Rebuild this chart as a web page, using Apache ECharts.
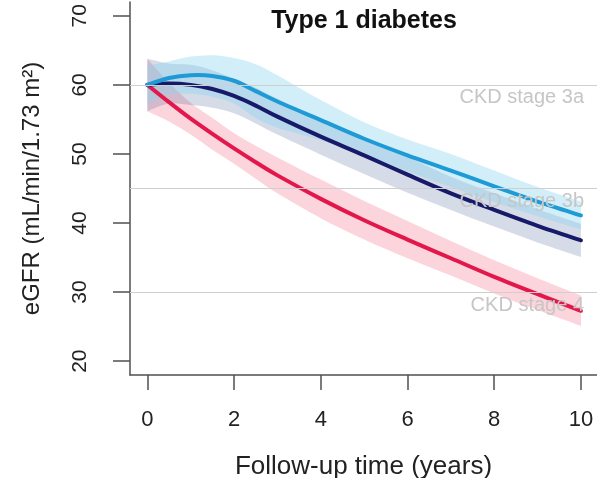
<!DOCTYPE html>
<html>
<head>
<meta charset="utf-8">
<script src="https://cdn.jsdelivr.net/npm/echarts@6/dist/echarts.min.js"></script>
<style>
  html, body { margin: 0; padding: 0; background: #fff; }
  #chart { width: 597px; height: 478px; }
</style>
</head>
<body>
<div id="chart"></div>
<script>
// Follow-up time (years) at which each trajectory is given
const years = [0, 0.5, 1, 1.5, 2, 2.5, 3, 4, 5, 6, 7, 8, 9, 10];

// Light blue group: mean eGFR and 95% band
const cyanMean  = [60, 61.0, 61.4, 61.3, 60.6, 59.1, 57.6, 54.9, 52.2, 49.8, 47.6, 45.3, 43.1, 41.1];
const cyanUpper = [62.8, 63.4, 64.1, 64.3, 63.9, 63.0, 61.4, 57.8, 54.6, 52.1, 50.0, 47.6, 45.2, 43.1];
const cyanLower = [57.2, 58.6, 58.7, 58.3, 57.3, 55.2, 53.8, 52.0, 49.8, 47.5, 45.2, 43.0, 41.0, 39.1];

// Dark blue group
const navyMean  = [60, 60.2, 60.0, 59.4, 58.4, 57.0, 55.4, 52.5, 49.8, 47.0, 44.3, 41.9, 39.6, 37.5];
const navyUpper = [63.8, 63.1, 62.9, 62.1, 60.9, 59.6, 58.0, 55.1, 52.5, 49.6, 46.7, 44.3, 42.0, 39.9];
const navyLower = [56.2, 57.3, 57.1, 56.7, 55.9, 54.4, 52.8, 49.9, 47.1, 44.4, 41.9, 39.5, 37.2, 35.1];

// Red group
const redMean  = [60, 57.5, 55.1, 52.9, 50.8, 48.8, 46.9, 43.5, 40.4, 37.6, 34.9, 32.2, 29.7, 27.3];
const redUpper = [63.8, 60.3, 57.4, 55.2, 53.0, 51.2, 49.5, 46.3, 43.2, 40.3, 37.4, 34.6, 32.0, 29.5];
const redLower = [56.2, 54.7, 52.8, 50.6, 48.6, 46.4, 44.3, 40.7, 37.6, 34.9, 32.4, 29.8, 27.4, 25.1];

// CKD stage thresholds
const stageLimits = [60, 45, 30];
const stageNames = ['CKD stage 3a', 'CKD stage 3b', 'CKD stage 4'];

// Tick labels
const xTicks = [0, 2, 4, 6, 8, 10];
const yTicks = [20, 30, 40, 50, 60, 70];

const FONT = 'Liberation Sans, Arial, Helvetica, sans-serif';
const AXIS_GREY = '#505050';

// Cubic Bezier segments through a list of pixel points (Catmull-Rom)
function curveThrough(p) {
  let s = '';
  for (let i = 0; i < p.length - 1; i++) {
    const p0 = p[Math.max(i - 1, 0)], p1 = p[i], p2 = p[i + 1], p3 = p[Math.min(i + 2, p.length - 1)];
    const c1 = [p1[0] + (p2[0] - p0[0]) / 6, p1[1] + (p2[1] - p0[1]) / 6];
    const c2 = [p2[0] - (p3[0] - p1[0]) / 6, p2[1] - (p3[1] - p1[1]) / 6];
    s += 'C' + c1[0] + ',' + c1[1] + ' ' + c2[0] + ',' + c2[1] + ' ' + p2[0] + ',' + p2[1];
  }
  return s;
}

// Confidence band: one filled shape between the lower and upper curves
function bandSeries(lower, upper, fill) {
  return {
    type: 'custom',
    z: 2,
    silent: true,
    clip: true,
    data: years.map((x, i) => [x, lower[i], upper[i]]),
    encode: { x: 0, y: [1, 2] },
    renderItem: function (params, api) {
      if (params.dataIndex !== 0) return null;
      const up = years.map((x, i) => api.coord([x, upper[i]]));
      const lo = years.map((x, i) => api.coord([x, lower[i]])).reverse();
      const d = 'M' + up[0][0] + ',' + up[0][1] + curveThrough(up) +
                'L' + lo[0][0] + ',' + lo[0][1] + curveThrough(lo) + 'Z';
      return { type: 'path', shape: { pathData: d }, style: { fill: fill, stroke: null } };
    }
  };
}

// Mean trajectory: smooth stroked curve through the estimates
function meanSeries(values, color) {
  return {
    type: 'custom',
    z: 3,
    silent: true,
    clip: true,
    data: years.map((x, i) => [x, values[i]]),
    encode: { x: 0, y: 1 },
    renderItem: function (params, api) {
      if (params.dataIndex !== 0) return null;
      const pts = years.map((x, i) => api.coord([x, values[i]]));
      const d = 'M' + pts[0][0] + ',' + pts[0][1] + curveThrough(pts);
      return {
        type: 'path',
        shape: { pathData: d },
        style: { fill: null, stroke: color, lineWidth: 4, lineCap: 'round', lineJoin: 'round' }
      };
    }
  };
}

const chart = echarts.init(document.getElementById('chart'), null, { renderer: 'canvas' });

chart.setOption({
  animation: false,
  backgroundColor: '#ffffff',
  title: {
    text: 'Type 1 diabetes',
    left: 364,
    top: 9,
    padding: 0,
    textAlign: 'center',
    textStyle: { fontFamily: FONT, fontSize: 25, fontWeight: 'bold', color: '#111' }
  },
  grid: { left: 130, right: 0, top: 2, bottom: 103, containLabel: false, outerBoundsMode: 'none' },
  xAxis: {
    type: 'value',
    min: -0.4,
    max: 10.37,
    splitLine: { show: false },
    axisLine: { show: true, onZero: false, lineStyle: { color: AXIS_GREY, width: 1.5 } },
    axisTick: { show: true, length: 15, customValues: xTicks, lineStyle: { color: AXIS_GREY, width: 1.5 } },
    axisLabel: { customValues: xTicks, fontFamily: FONT, fontSize: 22, color: '#222', margin: 34 },
    name: 'Follow-up time (years)',
    nameLocation: 'middle',
    nameGap: 79,
    nameTextStyle: { fontFamily: FONT, fontSize: 26, color: '#222' }
  },
  yAxis: {
    type: 'value',
    min: 18,
    max: 72,
    splitLine: { show: false },
    axisLine: { show: true, onZero: false, lineStyle: { color: AXIS_GREY, width: 1.5 } },
    axisTick: { show: true, length: 17, customValues: yTicks, lineStyle: { color: AXIS_GREY, width: 1.5 } },
    axisLabel: { customValues: yTicks, rotate: 90, fontFamily: FONT, fontSize: 21, color: '#222', margin: 39 },
    name: 'eGFR (mL/min/1.73 m²)',
    nameLocation: 'middle',
    nameGap: 86,
    nameTextStyle: { fontFamily: FONT, fontSize: 24, color: '#222' }
  },
  series: [
    {
      // CKD stage reference lines
      type: 'line',
      z: 1,
      silent: true,
      data: [],
      markLine: {
        silent: true,
        symbol: ['none', 'none'],
        animation: false,
        lineStyle: { color: '#cfcfcf', type: 'solid', width: 1.2 },
        label: {
          show: true,
          position: 'insideEndBottom',
          distance: [13, 3],
          fontFamily: FONT,
          fontSize: 20,
          color: '#c6c6c6',
          formatter: function (p) { return p.name; }
        },
        data: stageLimits.map((v, i) => ({ yAxis: v, name: stageNames[i] }))
      }
    },
    bandSeries(redLower, redUpper, 'rgba(240, 95, 125, 0.27)'),
    bandSeries(navyLower, navyUpper, 'rgba(70, 90, 150, 0.22)'),
    bandSeries(cyanLower, cyanUpper, 'rgba(140, 212, 240, 0.4)'),
    meanSeries(redMean, '#e3174b'),
    meanSeries(navyMean, '#161a68'),
    meanSeries(cyanMean, '#1e9bd6')
  ]
});
</script>
</body>
</html>
